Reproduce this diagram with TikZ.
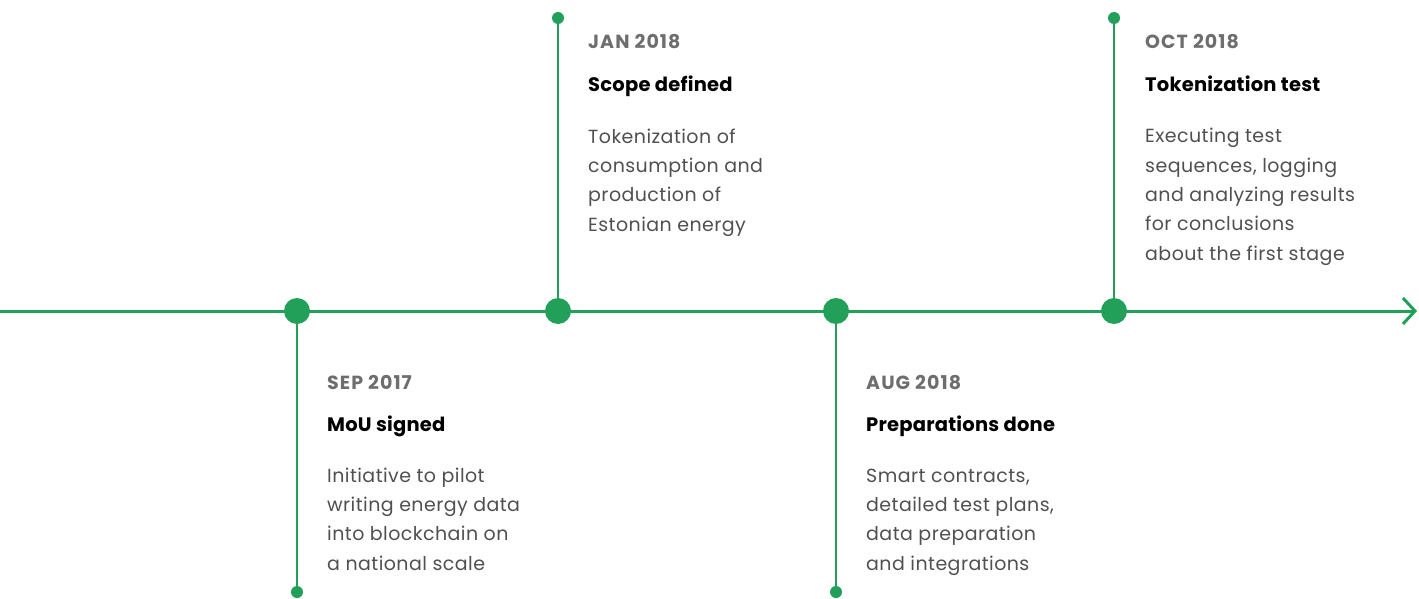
\documentclass[tikz,border=0pt]{standalone}
\usepackage{fontspec}
\setmainfont{Poppins}
\newfontfamily\bodyfont[LetterSpace=2.3]{Poppins}
\newfontfamily\titlefont[LetterSpace=1.1]{Poppins}
\newfontfamily\datefont[LetterSpace=5.5]{Poppins}
\usetikzlibrary{arrows.meta}
\definecolor{tlgreen}{RGB}{34,160,90}
\definecolor{dategray}{RGB}{110,110,110}
\definecolor{bodygray}{RGB}{80,80,80}
\tikzset{
  axis/.style={draw=tlgreen, line width=3pt},
  stem/.style={draw=tlgreen, line width=2.2pt},
  bigdot/.style={circle, fill=tlgreen, minimum size=26pt, inner sep=0pt},
  smalldot/.style={circle, fill=tlgreen, minimum size=12pt, inner sep=0pt},
  datetxt/.style={anchor=base west, inner sep=0pt, text=dategray, font=\datefont\fontsize{19}{22}\selectfont\bfseries},
  titletxt/.style={anchor=base west, inner sep=0pt, text=black, font=\titlefont\fontsize{19.5}{23}\selectfont\bfseries},
  bodytxt/.style={anchor=base west, inner sep=0pt, text=bodygray, align=left, font=\bodyfont\fontsize{19}{29.3}\selectfont},
}
\begin{document}
\begin{tikzpicture}[x=1pt,y=-1pt]
\useasboundingbox (0,0) rectangle (1419,599);
\coordinate (start) at (0,311);
\coordinate (end) at (1417,311);
\node[bigdot] (d1) at (297,311) {};
\node[bigdot] (d2) at (558,311) {};
\node[bigdot] (d3) at (836,311) {};
\node[bigdot] (d4) at (1114,311) {};
\node[smalldot] (s1) at (297,592) {};
\node[smalldot] (s2) at (558,18) {};
\node[smalldot] (s3) at (836,592) {};
\node[smalldot] (s4) at (1114,18) {};
\draw[axis, -{Straight Barb[length=12pt,width=26pt,line width=3pt]}] (start) -- (end);
\draw[stem] (d1) -- (s1);
\draw[stem] (d2) -- (s2);
\draw[stem] (d3) -- (s3);
\draw[stem] (d4) -- (s4);
% SEP 2017 (body anchored at last baseline)
\node[datetxt] (t1) at (327,389) {SEP 2017};
\node[titletxt] (h1) at (327,431) {MoU signed};
\node[bodytxt] (b1) at (327,570) {Initiative to pilot\\writing energy data\\into blockchain on\\a national scale};
% JAN 2018
\node[datetxt] (t2) at (588,49) {JAN 2018};
\node[titletxt] (h2) at (588,92) {Scope defined};
\node[bodytxt] (b2) at (588,231) {Tokenization of\\consumption and\\production of\\Estonian energy};
% AUG 2018
\node[datetxt] (t3) at (866,389) {AUG 2018};
\node[titletxt] (h3) at (866,431) {Preparations done};
\node[bodytxt] (b3) at (866,570) {Smart contracts,\\detailed test plans,\\data preparation\\and integrations};
% OCT 2018
\node[datetxt] (t4) at (1145,49) {OCT 2018};
\node[titletxt] (h4) at (1145,92) {Tokenization test};
\node[bodytxt] (b4) at (1145,260) {Executing test\\sequences, logging\\and analyzing results\\for conclusions\\about the first stage};
\end{tikzpicture}
\end{document}
